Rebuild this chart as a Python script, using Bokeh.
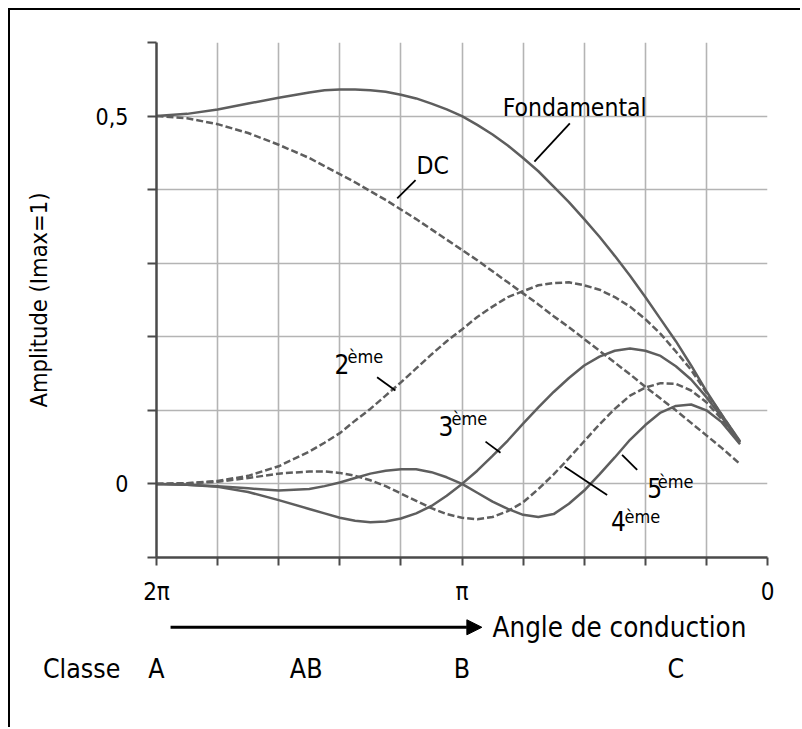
from bokeh.plotting import figure
from bokeh.layouts import column
from bokeh.models import Range1d, FixedTicker, Label, Arrow, NormalHead
from bokeh.embed import file_html
from bokeh.resources import INLINE

# ---- data (angle in units of pi, amplitude / Imax) ----
angle = [2.0, 1.9, 1.8, 1.7, 1.6, 1.5, 1.45, 1.4, 1.35, 1.3, 1.25, 1.2, 1.15, 1.1, 1.05, 1.0,
         0.95, 0.9, 0.85, 0.8, 0.75, 0.7, 0.65, 0.6, 0.55, 0.5, 0.45, 0.4, 0.35, 0.3, 0.25,
         0.2, 0.15, 0.09]
fondamental = [0.500, 0.503, 0.509, 0.517, 0.525, 0.532, 0.535, 0.536, 0.536, 0.535, 0.533,
               0.529, 0.524, 0.517, 0.509, 0.500, 0.488, 0.475, 0.460, 0.443, 0.425, 0.404,
               0.383, 0.360, 0.336, 0.310, 0.283, 0.254, 0.224, 0.194, 0.161, 0.126, 0.094,
               0.058]
dc = [0.500, 0.497, 0.489, 0.477, 0.461, 0.443, 0.432, 0.421, 0.410, 0.398, 0.386, 0.373,
      0.360, 0.346, 0.332, 0.318, 0.304, 0.289, 0.274, 0.259, 0.244, 0.228, 0.213, 0.197,
      0.181, 0.165, 0.149, 0.132, 0.116, 0.100, 0.083, 0.066, 0.049, 0.027]
h2 = [0.000, 0.001, 0.004, 0.011, 0.024, 0.044, 0.056, 0.069, 0.086, 0.102, 0.120, 0.138,
      0.157, 0.176, 0.194, 0.210, 0.227, 0.241, 0.254, 0.262, 0.270, 0.273, 0.274, 0.270,
      0.264, 0.254, 0.241, 0.224, 0.204, 0.180, 0.155, 0.124, 0.094, 0.057]
h3 = [0.000, -0.001, -0.004, -0.011, -0.022, -0.034, -0.040, -0.046, -0.050, -0.052, -0.051,
      -0.047, -0.040, -0.030, -0.016, 0.000, 0.018, 0.038, 0.059, 0.082, 0.104, 0.125,
      0.144, 0.161, 0.173, 0.181, 0.184, 0.181, 0.174, 0.160, 0.142, 0.118, 0.091, 0.056]
h4 = [0.000, 0.001, 0.003, 0.008, 0.014, 0.017, 0.017, 0.015, 0.011, 0.005, -0.003, -0.013,
      -0.023, -0.033, -0.041, -0.046, -0.048, -0.045, -0.037, -0.025, -0.007, 0.013, 0.035,
      0.058, 0.081, 0.102, 0.120, 0.131, 0.137, 0.136, 0.127, 0.111, 0.088, 0.055]
h5 = [0.000, -0.001, -0.003, -0.006, -0.009, -0.007, -0.003, 0.002, 0.008, 0.014, 0.018,
      0.020, 0.020, 0.016, 0.009, 0.000, -0.012, -0.024, -0.034, -0.042, -0.045, -0.041,
      -0.027, -0.009, 0.013, 0.036, 0.060, 0.080, 0.097, 0.106, 0.108, 0.100, 0.084, 0.054]

x_ticks = [2, 1.8, 1.6, 1.4, 1.2, 1, 0.8, 0.6, 0.4, 0.2, 0]
x_tick_text = {2: "2π", 1: "π", 0: "0"}
y_ticks = [-0.1, 0, 0.1, 0.2, 0.3, 0.4, 0.5, 0.6]
y_tick_text = {0.5: "0,5", 0: "0"}
classes = ["A", "AB", "B", "C"]
class_angle = [2.0, 1.51, 1.0, 0.3]

FONT = "DejaVu Sans Condensed"
CURVE = "#5e5e5e"
AXIS = "#4a4a4a"
GRID = "#b4b4b4"

W = 790
H_TOP = 599
H_BOTTOM = 118
PX = 305.5          # pixels per unit of angle (pi)
PY = 736.0          # pixels per unit of amplitude

p = figure(width=W, height=H_TOP, x_range=Range1d(2, 0), y_range=Range1d(-0.1, 0.6),
           output_backend="svg", toolbar_location=None,
           min_border_left=146, min_border_right=W - 757, min_border_top=32,
           min_border_bottom=H_TOP - 547)
p.frame_align = False
p.outline_line_color = None
p.background_fill_color = "white"
p.border_fill_color = "white"

# grid
p.xgrid.ticker = FixedTicker(ticks=x_ticks)
p.ygrid.ticker = FixedTicker(ticks=y_ticks)
for g in (p.xgrid, p.ygrid):
    g.grid_line_color = GRID
    g.grid_line_width = 1.6

# axes
p.xaxis.ticker = FixedTicker(ticks=x_ticks)
p.yaxis.ticker = FixedTicker(ticks=y_ticks)
p.xaxis.major_label_overrides = {t: x_tick_text.get(t, "") for t in x_ticks}
p.yaxis.major_label_overrides = {t: y_tick_text.get(t, "") for t in y_ticks}
for ax in (p.xaxis, p.yaxis):
    ax.axis_line_color = AXIS
    ax.axis_line_width = 2.5
    ax.major_tick_line_color = AXIS
    ax.major_tick_line_width = 2
    ax.major_tick_in = 0
    ax.minor_tick_line_color = None
    ax.major_label_text_font = FONT
    ax.major_label_text_color = "black"
p.yaxis.major_tick_out = 9
p.xaxis.major_tick_out = 8
p.yaxis.major_label_standoff = 19
p.xaxis.major_label_standoff = 12
p.yaxis.major_label_text_font_size = "23px"
p.xaxis.major_label_text_font_size = "24px"
p.yaxis.axis_label = "Amplitude (Imax=1)"
p.yaxis.axis_label_text_font = FONT
p.yaxis.axis_label_text_font_size = "23.5px"
p.yaxis.axis_label_text_font_style = "normal"
p.yaxis.axis_label_text_color = "black"
p.yaxis.axis_label_standoff = 40

# curves
p.line(angle, fondamental, line_color=CURVE, line_width=2.5)
p.line(angle, dc, line_color=CURVE, line_width=2.5, line_dash="7 3")
p.line(angle, h2, line_color=CURVE, line_width=2.5, line_dash="7 3")
p.line(angle, h3, line_color=CURVE, line_width=2.5)
p.line(angle, h4, line_color=CURVE, line_width=2.5, line_dash="7 3")
p.line(angle, h5, line_color=CURVE, line_width=2.5)

# leader lines (annotation positions)
lead_x0 = [0.647, 1.152, 1.278, 0.923, 0.664, 0.476]
lead_y0 = [0.490, 0.413, 0.145, 0.0575, 0.0235, 0.0394]
lead_x1 = [0.763, 1.212, 1.218, 0.874, 0.525, 0.4266]
lead_y1 = [0.438, 0.388, 0.127, 0.0425, -0.0149, 0.019]
p.segment(lead_x0, lead_y0, lead_x1, lead_y1, line_color="black", line_width=1.8)


def lab(fig, x, y, text, size, align="left", baseline="alphabetic"):
    fig.add_layout(Label(x=x, y=y, text=text, text_font=FONT, text_font_size=size,
                         text_color="black", text_align=align, text_baseline=baseline))


lab(p, 0.867, 0.511, "Fondamental", "24.5px")
lab(p, 1.149, 0.433, "DC", "24.5px")
# harmonic labels: digit + superscript
for (xd, yd, d, xs, ys) in [(1.417, 0.163, "2", 1.375, 0.1726),
                            (1.077, 0.079, "3", 1.034, 0.0895),
                            (0.512, -0.051, "4", 0.468, -0.044),
                            (0.394, -0.0054, "5", 0.359, 0.0031)]:
    lab(p, xd, yd, d, "26px")
    lab(p, xs, ys, "ème", "18px")

# ---- strip below the chart: conduction-angle arrow and amplifier classes ----
top_px = 10 + H_TOP            # page y of the strip's top edge
q = figure(width=W, height=H_BOTTOM, output_backend="svg", toolbar_location=None,
           x_range=Range1d(2 + 146 / PX, 2 - 644 / PX),
           y_range=Range1d((484 - (top_px + H_BOTTOM)) / PY, (484 - top_px) / PY),
           x_axis_type=None, y_axis_type=None,
           min_border_left=0, min_border_right=0, min_border_top=0, min_border_bottom=0)
q.frame_align = False
q.outline_line_color = None
q.xgrid.visible = False
q.ygrid.visible = False
q.background_fill_color = "white"
q.border_fill_color = "white"

lab(q, 0.900, -0.194, "Angle de conduction", "27.5px", baseline="middle")
q.add_layout(Arrow(end=NormalHead(size=15, fill_color="black", line_color="black"),
                   x_start=1.954, y_start=-0.194, x_end=0.935, y_end=-0.194,
                   line_color="black", line_width=3))
lab(q, 2.245, -0.250, "Classe", "26.5px", align="center", baseline="middle")
for c, xa in zip(classes, class_angle):
    lab(q, xa, -0.250, c, "26.5px", align="center", baseline="middle")

page = column(p, q, spacing=0,
              styles={"margin-left": "8px", "margin-top": "8px",
                      "border-left": "2px solid black", "border-top": "2px solid black"})

open("out.html", "w").write(file_html(page, INLINE))
